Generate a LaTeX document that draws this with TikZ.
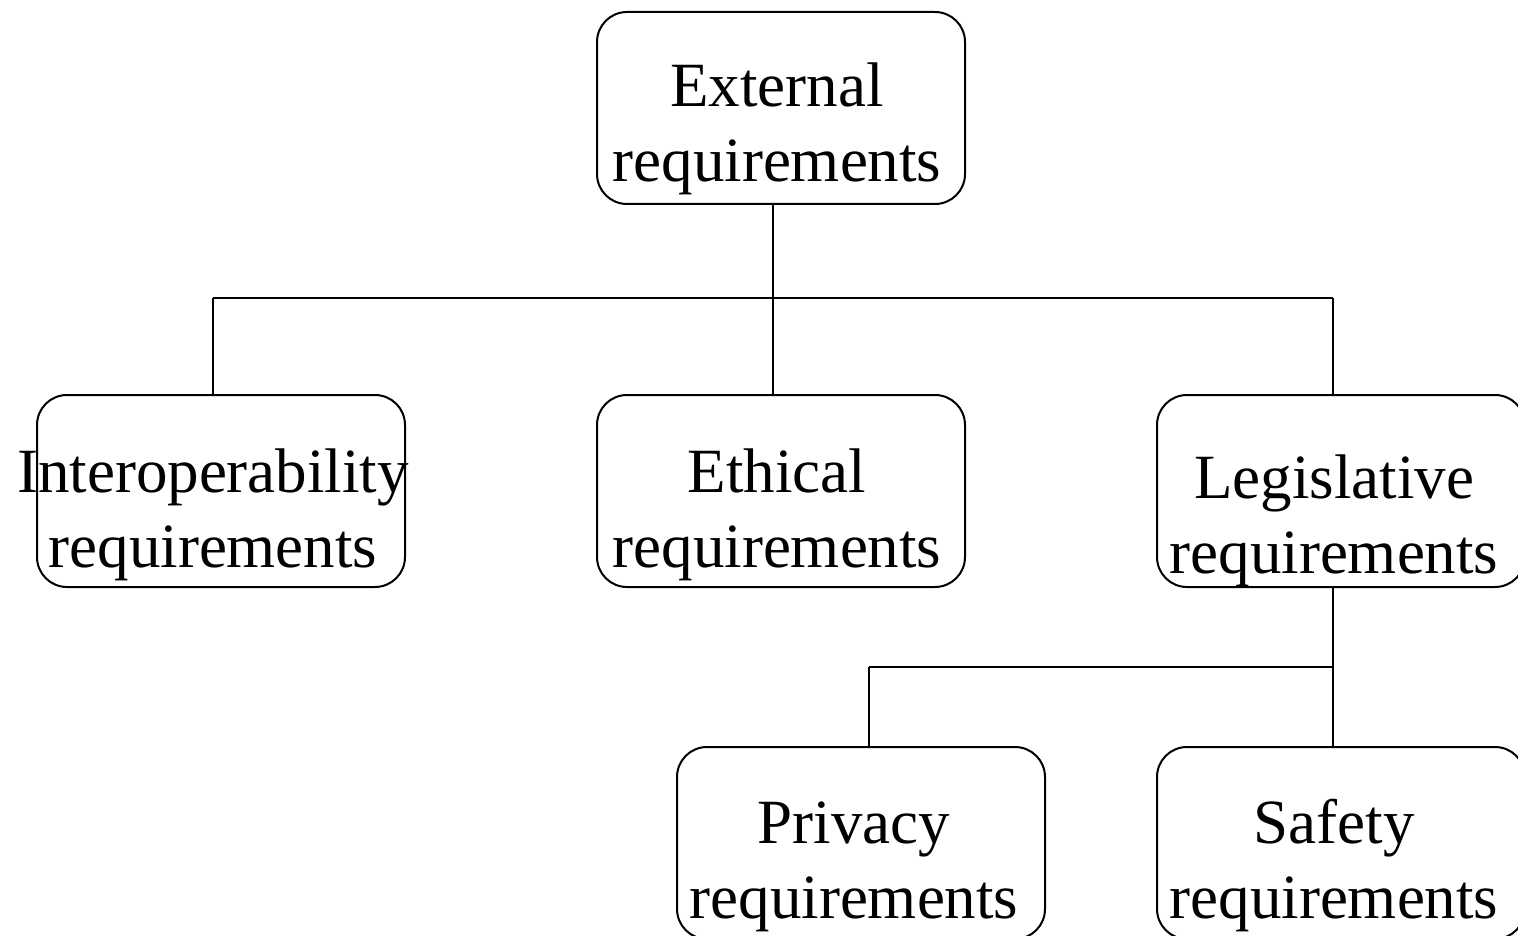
\documentclass[tikz,border=0pt]{standalone}
\usepackage{fontspec}
\setmainfont{Liberation Serif}
\begin{document}
\begin{tikzpicture}[x=1pt,y=-1pt,
  reqbox/.style={draw,line width=2pt,rounded corners=30pt,
    minimum width=368pt,minimum height=192pt,inner sep=0pt},
  reqtext/.style={anchor=base,align=center,inner sep=0pt,
    font=\fontsize{63}{75}\selectfont},
  link/.style={line width=2pt}]
\useasboundingbox (0,0) rectangle (1518,936);

% boxes of the hierarchy
\node[reqbox] (ext)     at (781,108) {};
\node[reqbox] (interop) at (221,491) {};
\node[reqbox] (ethic)   at (781,491) {};
\node[reqbox] (legis)   at (1341,491) {};
\node[reqbox] (priv)    at (861,843) {};
\node[reqbox] (safe)    at (1341,843) {};

% labels (anchored at the baseline of the last line)
\node[reqtext] (extT)     at (777,182)  {External\\requirements};
\node[reqtext] (interopT) at (213,567)  {Interoperability\\requirements};
\node[reqtext] (ethicT)   at (777,567)  {Ethical\\requirements};
\node[reqtext] (legisT)   at (1334,573) {Legislative\\requirements};
\node[reqtext] (privT)    at (854,918)  {Privacy\\requirements};
\node[reqtext] (safeT)    at (1334,918) {Safety\\requirements};

% junction points of the connector trees
\coordinate (busA) at (773,298);
\coordinate (busAL) at (213,298);
\coordinate (busAR) at (1333,298);
\coordinate (busB) at (1333,667);
\coordinate (busBL) at (869,667);

% first level
\draw[link] (ext.south -| busA) -- (busA);
\draw[link] (busAL) -- (busAR);
\draw[link] (busAL) -- (busAL |- interop.north);
\draw[link] (busA) -- (busA |- ethic.north);
\draw[link] (busAR) -- (busAR |- legis.north);

% second level
\draw[link] (legis.south -| busB) -- (busB);
\draw[link] (busBL) -- (busB);
\draw[link] (busBL) -- (busBL |- priv.north);
\draw[link] (busB) -- (busB |- safe.north);
\end{tikzpicture}
\end{document}
